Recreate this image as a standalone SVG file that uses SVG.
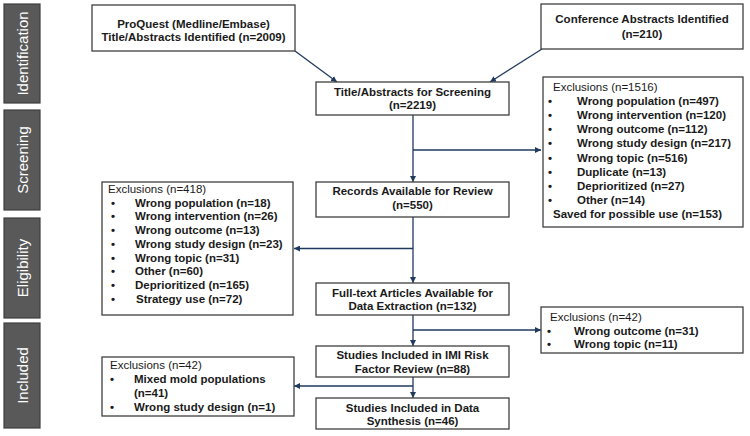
<svg xmlns="http://www.w3.org/2000/svg" width="750" height="436" viewBox="0 0 750 436">
<defs>
<style>
.bar{fill:#595959;stroke:#3f3f3f;stroke-width:1.2}
.bt{fill:#ffffff;font-family:"Liberation Sans",Arial,sans-serif;font-size:15px;text-anchor:middle}
.box{fill:#ffffff;stroke:#404040;stroke-width:1.3}
.t{fill:#1a1a1a;font-family:"Liberation Sans",Arial,sans-serif;font-size:11.5px;font-weight:bold}
.c{text-anchor:middle}
.r{font-weight:normal}
.ln{fill:none;stroke:#1f3a5f;stroke-width:1.3}
</style>
<marker id="ah" viewBox="0 0 10 10" refX="10" refY="5" markerWidth="6" markerHeight="6" markerUnits="userSpaceOnUse" orient="auto">
<path d="M0,0 L10,5 L0,10 Z" fill="#1f3a5f"/>
</marker>
</defs>
<rect width="750" height="436" fill="#ffffff"/>

<g id="stage-identification"><rect class="bar" x="4" y="4" width="36" height="99"/><text class="bt" transform="translate(27.5,53.5) rotate(-90)">Identification</text></g>
<g id="stage-screening"><rect class="bar" x="4" y="110" width="36" height="100"/><text class="bt" transform="translate(27.5,160) rotate(-90)">Screening</text></g>
<g id="stage-eligibility"><rect class="bar" x="4" y="218" width="36" height="100"/><text class="bt" transform="translate(27.5,268) rotate(-90)">Eligibility</text></g>
<g id="stage-included"><rect class="bar" x="4" y="323" width="36" height="105"/><text class="bt" transform="translate(27.5,375.5) rotate(-90)">Included</text></g>

<g id="connectors">
<line class="ln" x1="295" y1="51" x2="337" y2="82" marker-end="url(#ah)"/>
<line class="ln" x1="542" y1="49" x2="490" y2="82" marker-end="url(#ah)"/>
<line class="ln" x1="413" y1="115" x2="413" y2="182" marker-end="url(#ah)"/>
<line class="ln" x1="413" y1="150" x2="541" y2="150" marker-end="url(#ah)"/>
<line class="ln" x1="413" y1="217" x2="413" y2="283" marker-end="url(#ah)"/>
<line class="ln" x1="413" y1="248.5" x2="294" y2="248.5" marker-end="url(#ah)"/>
<line class="ln" x1="413" y1="315" x2="413" y2="346" marker-end="url(#ah)"/>
<line class="ln" x1="413" y1="330" x2="541" y2="330" marker-end="url(#ah)"/>
<line class="ln" x1="413" y1="377" x2="413" y2="398" marker-end="url(#ah)"/>
<line class="ln" x1="413" y1="386" x2="294" y2="386" marker-end="url(#ah)"/>
</g>

<g id="proquest"><rect class="box" x="92" y="5" width="203" height="46"/>
<text class="t c" x="193.5" y="27.5">ProQuest (Medline/Embase)</text>
<text class="t c" x="193.5" y="40.5">Title/Abstracts Identified (n=2009)</text></g>

<g id="conference"><rect class="box" x="541" y="4" width="202" height="45"/>
<text class="t c" x="642" y="23">Conference Abstracts Identified</text>
<text class="t c" x="642" y="37.5">(n=210)</text></g>

<g id="screening"><rect class="box" x="316" y="82" width="193" height="33"/>
<text class="t c" x="412.5" y="95.5">Title/Abstracts for Screening</text>
<text class="t c" x="412.5" y="109">(n=2219)</text></g>

<g id="excl-1516"><rect class="box" x="543" y="77" width="200" height="150"/>
<text class="t r" x="553" y="91">Exclusions (n=1516)</text>
<text class="t"><tspan x="548" y="105.1">•</tspan><tspan x="577" y="105.1">Wrong population (n=497)</tspan></text>
<text class="t"><tspan x="548" y="119.2">•</tspan><tspan x="577" y="119.2">Wrong intervention (n=120)</tspan></text>
<text class="t"><tspan x="548" y="133.3">•</tspan><tspan x="577" y="133.3">Wrong outcome (n=112)</tspan></text>
<text class="t"><tspan x="548" y="147.4">•</tspan><tspan x="577" y="147.4">Wrong study design (n=217)</tspan></text>
<text class="t"><tspan x="548" y="161.6">•</tspan><tspan x="577" y="161.6">Wrong topic (n=516)</tspan></text>
<text class="t"><tspan x="548" y="175.7">•</tspan><tspan x="577" y="175.7">Duplicate (n=13)</tspan></text>
<text class="t"><tspan x="548" y="189.8">•</tspan><tspan x="577" y="189.8">Deprioritized (n=27)</tspan></text>
<text class="t"><tspan x="548" y="203.9">•</tspan><tspan x="577" y="203.9">Other (n=14)</tspan></text>
<text class="t" x="553" y="218">Saved for possible use (n=153)</text></g>

<g id="records"><rect class="box" x="316" y="182" width="193" height="35"/>
<text class="t c" x="412.5" y="195">Records Available for Review</text>
<text class="t c" x="412.5" y="209">(n=550)</text></g>

<g id="excl-418"><rect class="box" x="102" y="182" width="191" height="133"/>
<text class="t r" x="108" y="192.7">Exclusions (n=418)</text>
<text class="t"><tspan x="111" y="206.5">•</tspan><tspan x="135" y="206.5">Wrong population (n=18)</tspan></text>
<text class="t"><tspan x="111" y="220.2">•</tspan><tspan x="135" y="220.2">Wrong intervention (n=26)</tspan></text>
<text class="t"><tspan x="111" y="234">•</tspan><tspan x="135" y="234">Wrong outcome (n=13)</tspan></text>
<text class="t"><tspan x="111" y="247.7">•</tspan><tspan x="135" y="247.7">Wrong study design (n=23)</tspan></text>
<text class="t"><tspan x="111" y="261.5">•</tspan><tspan x="135" y="261.5">Wrong topic (n=31)</tspan></text>
<text class="t"><tspan x="111" y="275.2">•</tspan><tspan x="135" y="275.2">Other (n=60)</tspan></text>
<text class="t"><tspan x="111" y="289">•</tspan><tspan x="135" y="289">Deprioritized (n=165)</tspan></text>
<text class="t"><tspan x="111" y="302.7">•</tspan><tspan x="136" y="302.7">Strategy use (n=72)</tspan></text></g>

<g id="fulltext"><rect class="box" x="316" y="283" width="193" height="32"/>
<text class="t c" x="412.5" y="297">Full-text Articles Available for</text>
<text class="t c" x="412.5" y="310">Data Extraction (n=132)</text></g>

<g id="excl-42-right"><rect class="box" x="541" y="307" width="202" height="46"/>
<text class="t r" x="550" y="321">Exclusions (n=42)</text>
<text class="t"><tspan x="547" y="334.5">•</tspan><tspan x="574" y="334.5">Wrong outcome (n=31)</tspan></text>
<text class="t"><tspan x="547" y="348">•</tspan><tspan x="574" y="348">Wrong topic (n=11)</tspan></text></g>

<g id="imi"><rect class="box" x="316" y="346" width="193" height="31"/>
<text class="t c" x="412.5" y="359">Studies Included in IMI Risk</text>
<text class="t c" x="412.5" y="372.5">Factor Review (n=88)</text></g>

<g id="excl-42-left"><rect class="box" x="102" y="357" width="192" height="59"/>
<text class="t r" x="110" y="369.3">Exclusions (n=42)</text>
<text class="t"><tspan x="110" y="383.3">•</tspan><tspan x="134" y="383.3">Mixed mold populations</tspan></text>
<text class="t" x="134" y="397.2">(n=41)</text>
<text class="t"><tspan x="110" y="410.8">•</tspan><tspan x="134" y="410.8">Wrong study design (n=1)</tspan></text></g>

<g id="synthesis"><rect class="box" x="316" y="398" width="193" height="31"/>
<text class="t c" x="412.5" y="411.5">Studies Included in Data</text>
<text class="t c" x="412.5" y="424.5">Synthesis (n=46)</text></g>
</svg>
